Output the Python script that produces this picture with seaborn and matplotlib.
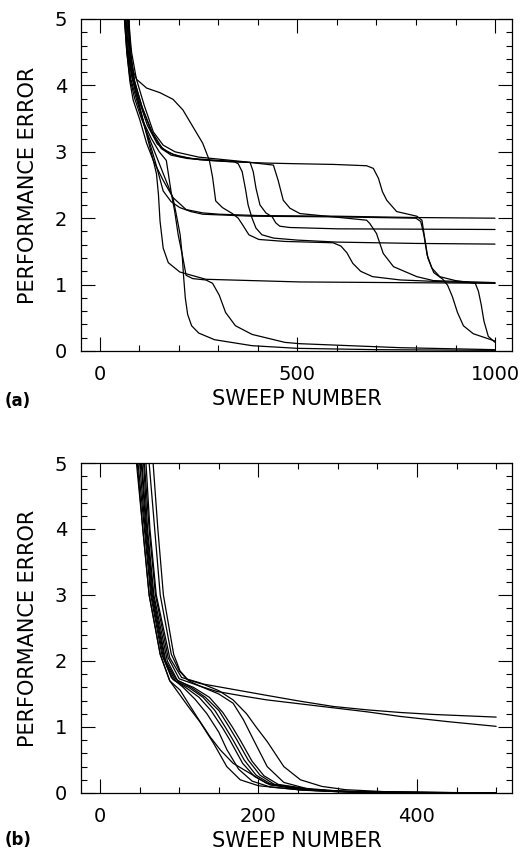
import numpy as np
import pandas as pd
import matplotlib
matplotlib.use("Agg")
import matplotlib.pyplot as plt
from matplotlib.ticker import MultipleLocator, FixedLocator, FuncFormatter
import seaborn as sns

# ---------------- Panel (a) data: performance error vs sweep number ----------------
a1_x = [68, 74, 84, 100, 120, 145, 170, 200, 253, 330, 422, 500, 591, 675, 692, 705, 715, 726, 751, 802, 815, 822, 830, 845, 868, 880, 892, 905, 920, 945, 1000]
a1_y = [5.0, 4.5, 4.1, 3.75, 3.4, 3.12, 3.0, 2.93, 2.88, 2.85, 2.83, 2.82, 2.81, 2.79, 2.75, 2.6, 2.4, 2.27, 2.10, 2.03, 1.97, 1.7, 1.4, 1.18, 1.08, 0.99, 0.82, 0.58, 0.38, 0.26, 0.15]

a2_x = [66, 72, 82, 95, 112, 135, 160, 185, 218, 260, 302, 400, 600, 800, 1000]
a2_y = [5.0, 4.5, 4.1, 3.8, 3.4, 2.87, 2.57, 2.31, 2.13, 2.08, 2.06, 2.04, 2.03, 2.01, 2.0]

a3_x = [64, 70, 80, 95, 115, 140, 160, 180, 202, 230, 260, 385, 600, 800, 812, 820, 828, 840, 860, 900, 950, 958, 965, 972, 983, 1000]
a3_y = [5.0, 4.5, 4.15, 3.8, 3.35, 2.85, 2.41, 2.25, 2.16, 2.1, 2.06, 2.03, 2.02, 2.0, 1.95, 1.75, 1.45, 1.25, 1.12, 1.06, 1.02, 0.9, 0.7, 0.45, 0.22, 0.13]

a4_x = [70, 76, 86, 105, 130, 155, 180, 220, 280, 340, 350, 360, 368, 375, 385, 395, 410, 440, 500, 600, 800, 1000]
a4_y = [5.0, 4.5, 4.1, 3.7, 3.3, 3.05, 2.95, 2.9, 2.87, 2.85, 2.82, 2.7, 2.45, 2.2, 2.0, 1.85, 1.75, 1.7, 1.67, 1.64, 1.62, 1.61]

a5_x = [71, 78, 88, 108, 132, 158, 185, 230, 300, 380, 388, 395, 405, 420, 436, 445, 455, 480, 600, 800, 1000]
a5_y = [5.0, 4.5, 4.05, 3.65, 3.3, 3.05, 2.96, 2.9, 2.87, 2.84, 2.7, 2.45, 2.2, 2.08, 2.02, 1.93, 1.88, 1.86, 1.84, 1.835, 1.83]

a6_x = [72, 80, 92, 112, 135, 160, 190, 250, 350, 439, 451, 464, 481, 506, 591, 675, 683, 700, 717, 743, 802, 844, 1000]
a6_y = [5.0, 4.5, 4.1, 3.7, 3.3, 3.1, 3.0, 2.92, 2.86, 2.80, 2.57, 2.27, 2.15, 2.07, 2.02, 1.97, 1.92, 1.77, 1.47, 1.27, 1.12, 1.06, 1.03]

a7_x = [74, 77, 85, 93, 118, 152, 185, 210, 235, 260, 277, 285, 293, 310, 335, 350, 360, 377, 402, 468, 590, 610, 625, 640, 660, 690, 760, 880, 1000]
a7_y = [5.0, 4.4, 4.2, 4.09, 3.96, 3.89, 3.79, 3.63, 3.38, 3.13, 2.87, 2.62, 2.26, 2.16, 2.07, 2.0, 1.91, 1.75, 1.68, 1.65, 1.63, 1.58, 1.48, 1.32, 1.2, 1.12, 1.07, 1.04, 1.02]

a8_x = [62, 68, 76, 84, 101, 118, 135, 143, 148, 152, 160, 173, 202, 268, 506, 1000]
a8_y = [5.0, 4.5, 4.05, 3.78, 3.48, 3.13, 2.87, 2.67, 2.36, 1.96, 1.55, 1.33, 1.19, 1.08, 1.04, 1.02]

a9_x = [63, 69, 78, 92, 110, 130, 150, 168, 181, 189, 198, 210, 218, 235, 268, 285, 302, 318, 343, 385, 468, 506, 760, 1000]
a9_y = [5.0, 4.5, 4.1, 3.8, 3.45, 3.2, 3.0, 2.87, 2.36, 2.11, 1.75, 1.40, 1.14, 1.09, 1.07, 1.02, 0.84, 0.58, 0.38, 0.25, 0.13, 0.11, 0.05, 0.02]

a10_x = [62, 68, 76, 88, 105, 125, 145, 165, 185, 195, 203, 208, 212, 216, 222, 232, 250, 290, 385, 500, 700, 1000]
a10_y = [5.0, 4.5, 4.1, 3.8, 3.5, 3.2, 2.9, 2.6, 2.3, 2.0, 1.75, 1.45, 1.1, 0.8, 0.55, 0.38, 0.27, 0.17, 0.08, 0.04, 0.02, 0.01]

# ---------------- Panel (b) data ----------------
b1_x = [46, 54, 62, 76, 88, 101, 122, 139, 152, 168, 189, 210, 250, 300, 500]
b1_y = [5.0, 4.0, 3.0, 2.1, 1.7, 1.56, 1.16, 0.85, 0.65, 0.45, 0.30, 0.15, 0.05, 0.02, 0.0]

b2_x = [47, 54, 62, 76, 88, 100, 112, 126, 143, 160, 177, 200, 250, 300, 500]
b2_y = [5.0, 4.0, 3.0, 2.1, 1.7, 1.5, 1.3, 1.08, 0.76, 0.40, 0.20, 0.11, 0.05, 0.02, 0.0]

b3_x = [48, 56, 64, 78, 90, 105, 120, 135, 150, 160, 175, 192, 215, 260, 330, 500]
b3_y = [5.0, 4.0, 3.0, 2.1, 1.75, 1.6, 1.42, 1.2, 0.92, 0.66, 0.36, 0.18, 0.09, 0.04, 0.01, 0.0]

b4_x = [50, 57, 65, 80, 92, 108, 125, 140, 155, 164, 180, 195, 215, 260, 330, 500]
b4_y = [5.0, 4.0, 3.0, 2.05, 1.72, 1.6, 1.45, 1.25, 0.98, 0.8, 0.45, 0.25, 0.12, 0.05, 0.01, 0.0]

b5_x = [52, 58, 66, 82, 95, 112, 130, 145, 158, 168, 182, 197, 215, 260, 330, 500]
b5_y = [5.0, 4.0, 3.0, 2.0, 1.7, 1.6, 1.45, 1.25, 1.0, 0.8, 0.5, 0.27, 0.14, 0.05, 0.01, 0.0]

b6_x = [53, 59, 67, 83, 96, 115, 133, 150, 163, 173, 187, 202, 220, 265, 330, 500]
b6_y = [5.0, 4.0, 3.0, 2.0, 1.72, 1.6, 1.45, 1.25, 1.0, 0.8, 0.5, 0.27, 0.13, 0.05, 0.01, 0.0]

b7_x = [55, 60, 68, 85, 98, 118, 138, 155, 167, 177, 192, 207, 225, 270, 340, 500]
b7_y = [5.0, 4.0, 3.0, 2.0, 1.7, 1.6, 1.45, 1.22, 1.0, 0.8, 0.48, 0.26, 0.13, 0.05, 0.01, 0.0]

b8_x = [56, 62, 70, 86, 100, 126, 150, 168, 181, 194, 211, 232, 260, 300, 370, 500]
b8_y = [5.0, 4.0, 3.0, 2.05, 1.73, 1.62, 1.5, 1.36, 1.11, 0.8, 0.40, 0.16, 0.07, 0.03, 0.01, 0.0]

b9_x = [58, 63, 71, 88, 103, 126, 150, 168, 185, 197, 211, 232, 253, 280, 310, 360, 420, 500]
b9_y = [5.0, 4.0, 3.0, 2.05, 1.75, 1.67, 1.55, 1.41, 1.2, 1.0, 0.78, 0.40, 0.20, 0.1, 0.05, 0.02, 0.01, 0.0]

b10_x = [62, 69, 76, 90, 100, 110, 126, 168, 210, 253, 295, 337, 379, 421, 500]
b10_y = [5.0, 4.0, 3.0, 2.1, 1.85, 1.72, 1.66, 1.57, 1.48, 1.39, 1.31, 1.26, 1.22, 1.19, 1.15]

b11_x = [67, 73, 80, 93, 101, 112, 126, 147, 180, 211, 253, 295, 337, 379, 440, 500]
b11_y = [5.0, 4.0, 3.0, 2.1, 1.85, 1.7, 1.62, 1.54, 1.47, 1.41, 1.35, 1.29, 1.23, 1.16, 1.08, 1.01]

panel_a_runs = [(a1_x, a1_y), (a2_x, a2_y), (a3_x, a3_y), (a4_x, a4_y), (a5_x, a5_y),
                (a6_x, a6_y), (a7_x, a7_y), (a8_x, a8_y), (a9_x, a9_y), (a10_x, a10_y)]
panel_b_runs = [(b1_x, b1_y), (b2_x, b2_y), (b3_x, b3_y), (b4_x, b4_y), (b5_x, b5_y),
                (b6_x, b6_y), (b7_x, b7_y), (b8_x, b8_y), (b9_x, b9_y), (b10_x, b10_y),
                (b11_x, b11_y)]

a_xticks = [0, 500, 1000]
b_xticks = [0, 200, 400]
y_ticks = [0, 1, 2, 3, 4, 5]
x_label = "SWEEP NUMBER"
y_label = "PERFORMANCE ERROR"


def to_frame(runs):
    rows = []
    for i, (xs, ys) in enumerate(runs):
        for j, (x, y) in enumerate(zip(xs, ys)):
            rows.append({"run": i, "order": j, "sweep": x, "error": y})
    return pd.DataFrame(rows)


sns.set_theme(style="ticks")
plt.rcParams["font.family"] = ["DejaVu Sans"]
plt.rcParams["text.color"] = "black"
plt.rcParams["axes.labelcolor"] = "black"
plt.rcParams["xtick.color"] = "black"
plt.rcParams["ytick.color"] = "black"
plt.rcParams["xtick.labelcolor"] = "black"
plt.rcParams["ytick.labelcolor"] = "black"

fig = plt.figure(figsize=(5.32, 8.52), dpi=100)
W, H = 532, 852
ax_a = fig.add_axes([81 / W, 1 - 351 / H, 431 / W, 332 / H])
ax_b = fig.add_axes([81 / W, 1 - 793 / H, 431 / W, 330 / H])

for ax, runs, xlim, xticks, minor in [
    (ax_a, panel_a_runs, (-48, 1043), a_xticks, 100),
    (ax_b, panel_b_runs, (-24, 520), b_xticks, 50),
]:
    df = to_frame(runs)
    sns.lineplot(data=df, x="sweep", y="error", units="run", estimator=None,
                 sort=False, color="black", linewidth=0.9, legend=False, ax=ax)
    ax.set_xlim(*xlim)
    ax.set_ylim(0, 5)
    ax.xaxis.set_major_locator(FixedLocator(xticks))
    ax.xaxis.set_minor_locator(MultipleLocator(minor))
    ax.yaxis.set_major_locator(FixedLocator(y_ticks))
    ax.yaxis.set_minor_locator(MultipleLocator(0.2))
    ax.yaxis.set_major_formatter(FuncFormatter(lambda v, p: f"{int(round(v))}"))
    ax.tick_params(which="both", direction="in", top=True, right=True,
                   width=0.8, color="black", labelcolor="black")
    ax.tick_params(which="major", length=10, labelsize=14)
    ax.tick_params(which="minor", length=4.5)
    ax.tick_params(axis="x", which="major", pad=10)
    ax.tick_params(axis="y", which="major", pad=10)
    for s in ax.spines.values():
        s.set_linewidth(0.9)
        s.set_color("black")
    ax.set_xlabel(x_label, fontsize=15, labelpad=4, color="black")
    ax.set_ylabel(y_label, fontsize=15, labelpad=12, color="black")

fig.text(5 / W, 1 - 401 / H, "(a)", fontsize=12, fontweight="bold", va="center", ha="left", color="black")
fig.text(5 / W, 1 - 840 / H, "(b)", fontsize=12, fontweight="bold", va="center", ha="left", color="black")

fig.savefig("out.png", dpi=100)
